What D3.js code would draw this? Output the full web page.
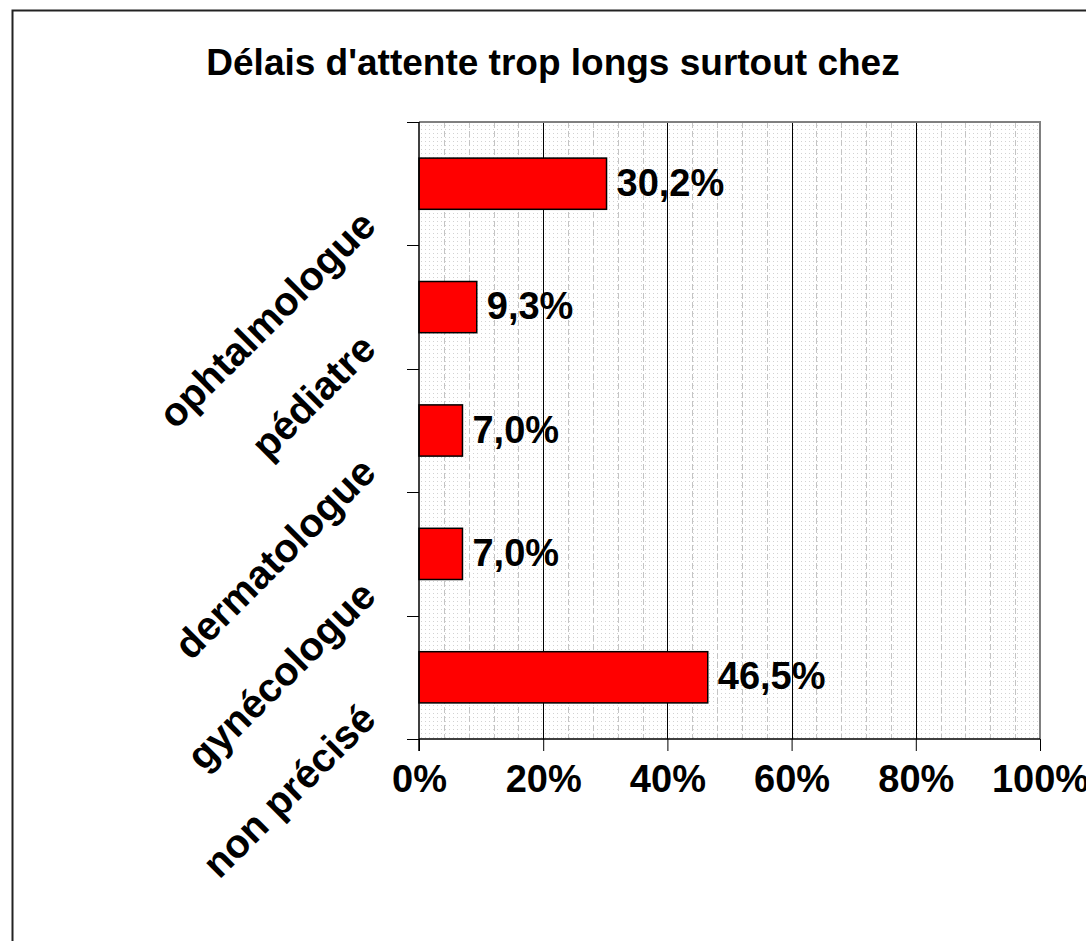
<!DOCTYPE html>
<html>
<head>
<meta charset="utf-8">
<script src="https://cdn.jsdelivr.net/npm/d3@7"></script>
<style>
  body { margin: 0; background: #fff; }
  text { font-family: "Liberation Sans", Arial, sans-serif; font-weight: bold; fill: #000; }
</style>
</head>
<body>
<div id="chart"></div>
<script>
// data
const categories = ["ophtalmologue", "pédiatre", "dermatologue", "gynécologue", "non précisé"];
const values = [30.2, 9.3, 7.0, 7.0, 46.5];
const xTicks = [0, 20, 40, 60, 80, 100];
const minorTicks = d3.range(0, 101, 4).filter(d => d % 20 !== 0);
const title = "Délais d'attente trop longs surtout chez";

const W = 1086, H = 941;
const plot = { left: 419, right: 1040, top: 122, bottom: 739 };

const svg = d3.select("#chart").append("svg")
  .attr("width", W)
  .attr("height", H);

// dotted background pattern
const defs = svg.append("defs");
const pat = defs.append("pattern")
  .attr("id", "dots")
  .attr("patternUnits", "userSpaceOnUse")
  .attr("width", 4)
  .attr("height", 4);
pat.append("rect").attr("width", 4).attr("height", 4).attr("fill", "#fff");
pat.append("rect").attr("x", 1).attr("y", 1).attr("width", 1).attr("height", 1).attr("fill", "#d2d2d2");

// outer frame
svg.append("rect")
  .attr("x", 12.5).attr("y", 10.5)
  .attr("width", 1200).attr("height", 1100)
  .attr("fill", "none")
  .attr("stroke", "#222")
  .attr("stroke-width", 2);

// title
svg.append("text")
  .attr("x", 553)
  .attr("y", 75)
  .attr("text-anchor", "middle")
  .style("font-size", "37px")
  .text(title);

// scales
const x = d3.scaleLinear().domain([0, 100]).range([plot.left, plot.right]);
const y = d3.scaleBand()
  .domain(categories)
  .range([plot.top, plot.bottom])
  .paddingInner(0.585)
  .paddingOuter(0.2925);

// plot area
svg.append("rect")
  .attr("x", plot.left).attr("y", plot.top)
  .attr("width", plot.right - plot.left)
  .attr("height", plot.bottom - plot.top)
  .attr("fill", "url(#dots)");

// minor dashed gridlines
svg.append("g").selectAll("line")
  .data(minorTicks)
  .join("line")
  .attr("x1", d => Math.round(x(d)) + 0.5)
  .attr("x2", d => Math.round(x(d)) + 0.5)
  .attr("y1", plot.top)
  .attr("y2", plot.bottom)
  .attr("stroke", "#c4c4c4")
  .attr("stroke-dasharray", "6,3");

// major gridlines
svg.append("g").selectAll("line")
  .data(xTicks.filter(d => d > 0 && d < 100))
  .join("line")
  .attr("x1", d => Math.round(x(d)) + 0.5)
  .attr("x2", d => Math.round(x(d)) + 0.5)
  .attr("y1", plot.top)
  .attr("y2", plot.bottom)
  .attr("stroke", "#000");

// plot border (top + right, grey)
svg.append("path")
  .attr("d", `M${plot.left},${plot.top}H${plot.right}V${plot.bottom}`)
  .attr("fill", "none")
  .attr("stroke", "#808080")
  .attr("stroke-width", 2);

// bars
const data = categories.map((c, i) => ({ cat: c, val: values[i] }));
svg.append("g").selectAll("rect")
  .data(data)
  .join("rect")
  .attr("x", x(0))
  .attr("y", d => y(d.cat))
  .attr("width", d => x(d.val) - x(0))
  .attr("height", y.bandwidth())
  .attr("fill", "#ff0000")
  .attr("stroke", "#000")
  .attr("stroke-width", 1.5);

// value labels
const fmt = d3.format(".1f");
svg.append("g").selectAll("text")
  .data(data)
  .join("text")
  .attr("x", d => x(d.val) + 10)
  .attr("y", d => y(d.cat) + y.bandwidth() / 2 + 12)
  .style("font-size", "38px")
  .text(d => fmt(d.val).replace(".", ",") + "%");

// x axis
const xAxis = d3.axisBottom(x)
  .tickValues(xTicks)
  .tickFormat(d => d + "%")
  .tickSize(12)
  .tickPadding(14);
const gx = svg.append("g")
  .attr("transform", `translate(0,${plot.bottom})`)
  .call(xAxis);
gx.select(".domain").attr("stroke", "#000").attr("stroke-width", 1.5)
  .attr("d", `M${plot.left},0H${plot.right}`);
gx.selectAll(".tick line").attr("stroke", "#000");
gx.selectAll(".tick text")
  .style("font-family", "'Liberation Sans', Arial, sans-serif")
  .style("font-weight", "bold")
  .style("font-size", "38px")
  .attr("fill", "#000");

// y axis: line with ticks on band boundaries
const gap = (y.step() - y.bandwidth()) / 2;
const bounds = categories.map(c => y(c) - gap).concat([plot.bottom]);
const gy = svg.append("g");
gy.append("line")
  .attr("x1", plot.left).attr("x2", plot.left)
  .attr("y1", plot.top).attr("y2", plot.bottom + 12)
  .attr("stroke", "#000").attr("stroke-width", 1.5);
gy.selectAll(".ytick")
  .data(bounds)
  .join("line")
  .attr("class", "ytick")
  .attr("x1", plot.left - 12).attr("x2", plot.left)
  .attr("y1", d => Math.round(d) + 0.5)
  .attr("y2", d => Math.round(d) + 0.5)
  .attr("stroke", "#000");

// rotated category labels
svg.append("g").selectAll("text")
  .data(categories)
  .join("text")
  .attr("text-anchor", "end")
  .attr("transform", d => `translate(378,${y(d) + y.bandwidth() / 2 + 44}) rotate(-45)`)
  .style("font-size", "40px")
  .text(d => d);
</script>
</body>
</html>
